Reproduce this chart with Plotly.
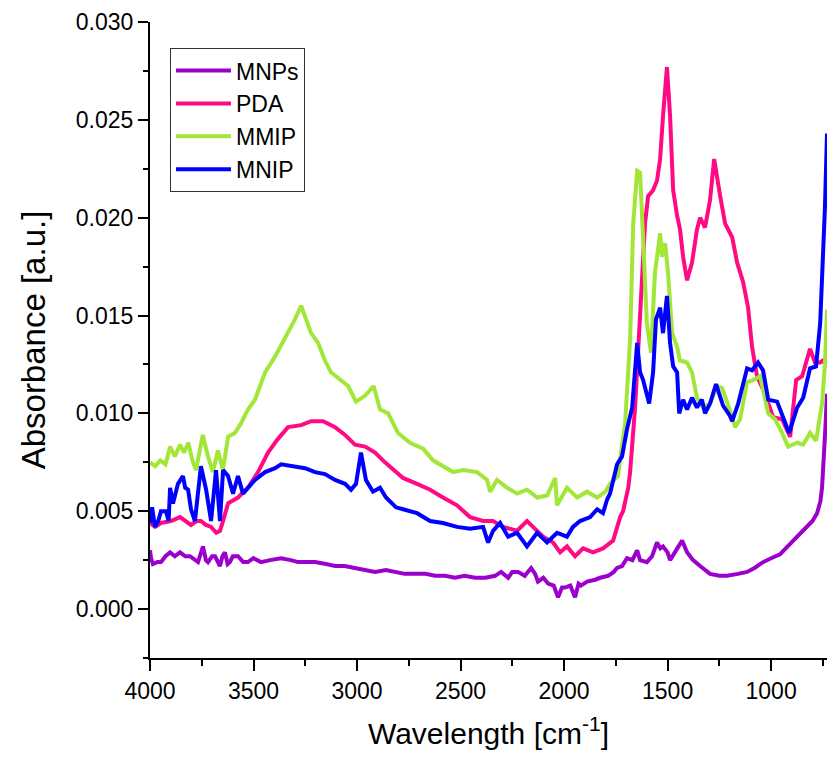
import plotly.graph_objects as go

# FTIR spectra: wavenumber (cm^-1) and absorbance (a.u.) for each sample

mnps_wn = [4000, 3995, 3986, 3965, 3947, 3925, 3903, 3880, 3855, 3830, 3807, 3768, 3744, 3730,
           3720, 3700, 3686, 3662, 3650, 3638, 3625, 3614, 3600, 3575, 3550, 3527, 3500, 3464,
           3420, 3367, 3320, 3285, 3240, 3203, 3150, 3106, 3060, 3010, 2960, 2913, 2860, 2817,
           2770, 2720, 2670, 2623, 2575, 2527, 2480, 2430, 2380, 2333, 2304, 2270, 2250, 2222,
           2190, 2159, 2140, 2126, 2100, 2077, 2050, 2029, 2010, 1995, 1970, 1947, 1930, 1918,
           1889, 1850, 1826, 1787, 1760, 1744, 1720, 1696, 1670, 1647, 1633, 1600, 1575, 1551,
           1535, 1522, 1500, 1488, 1464, 1430, 1406, 1377, 1343, 1320, 1295, 1250, 1213, 1160,
           1116, 1080, 1039, 1000, 957, 920, 893, 860, 826, 800, 778, 762, 754, 745, 738, 730]
mnps_abs = [0.0030, 0.0026, 0.0023, 0.0024, 0.0024, 0.0027, 0.0029, 0.0027, 0.0029, 0.0027,
            0.0027, 0.0024, 0.0032, 0.0025, 0.0024, 0.0027, 0.0027, 0.0022, 0.0027, 0.0029,
            0.0023, 0.0024, 0.0027, 0.0027, 0.0024, 0.0024, 0.0026, 0.0024, 0.0025, 0.0026,
            0.0025, 0.0024, 0.0024, 0.0024, 0.0023, 0.0022, 0.0022, 0.0021, 0.0020, 0.0019,
            0.0020, 0.0019, 0.0018, 0.0018, 0.0018, 0.0017, 0.0017, 0.0016, 0.0017, 0.0016,
            0.0016, 0.0017, 0.0019, 0.0016, 0.0019, 0.0019, 0.0017, 0.0021, 0.0018, 0.0014,
            0.0016, 0.0013, 0.0012, 0.0006, 0.0011, 0.0011, 0.0012, 0.0006, 0.0013, 0.0012,
            0.0014, 0.0015, 0.0016, 0.0017, 0.0019, 0.0021, 0.0022, 0.0026, 0.0025, 0.0030,
            0.0025, 0.0024, 0.0027, 0.0034, 0.0031, 0.0032, 0.0029, 0.0025, 0.0029, 0.0035,
            0.0029, 0.0025, 0.0022, 0.0020, 0.0018, 0.0017, 0.0017, 0.0018, 0.0019, 0.0021,
            0.0024, 0.0026, 0.0028, 0.0032, 0.0035, 0.0038, 0.0042, 0.0045, 0.0049, 0.0055,
            0.0062, 0.0075, 0.0092, 0.0110]

pda_wn = [4000, 3975, 3947, 3899, 3855, 3830, 3802, 3775, 3754, 3730, 3705, 3680, 3662, 3647,
          3623, 3575, 3527, 3478, 3430, 3382, 3333, 3270, 3222, 3164, 3106, 3058, 3010, 2961,
          2913, 2865, 2812, 2778, 2710, 2647, 2585, 2517, 2454, 2391, 2343, 2295, 2227, 2179,
          2150, 2101, 2053, 2019, 1986, 1947, 1908, 1860, 1812, 1763, 1729, 1715, 1690, 1681,
          1657, 1633, 1609, 1594, 1570, 1551, 1536, 1522, 1503, 1488, 1473, 1454, 1440, 1425,
          1406, 1382, 1358, 1343, 1319, 1295, 1275, 1246, 1222, 1188, 1164, 1135, 1111, 1092,
          1068, 1029, 990, 947, 908, 879, 850, 812, 788, 763, 749, 735]
pda_abs = [0.0044, 0.0042, 0.0044, 0.0045, 0.0047, 0.0045, 0.0043, 0.0045, 0.0045, 0.0043,
           0.0042, 0.0039, 0.0040, 0.0045, 0.0054, 0.0057, 0.0062, 0.0070, 0.0080, 0.0087,
           0.0093, 0.0094, 0.0096, 0.0096, 0.0093, 0.0089, 0.0084, 0.0083, 0.0080, 0.0075,
           0.0070, 0.0067, 0.0064, 0.0061, 0.0057, 0.0053, 0.0047, 0.0045, 0.0045, 0.0042,
           0.0040, 0.0045, 0.0042, 0.0037, 0.0034, 0.0029, 0.0032, 0.0027, 0.0031, 0.0029,
           0.0031, 0.0035, 0.0047, 0.0050, 0.0062, 0.0070, 0.0103, 0.0154, 0.0197, 0.0211,
           0.0214, 0.0219, 0.0230, 0.0252, 0.0277, 0.0252, 0.0214, 0.0201, 0.0194, 0.0180,
           0.0168, 0.0177, 0.0194, 0.0200, 0.0195, 0.0209, 0.0230, 0.0211, 0.0197, 0.0190,
           0.0177, 0.0167, 0.0154, 0.0134, 0.0119, 0.0110, 0.0098, 0.0097, 0.0088, 0.0117,
           0.0119, 0.0133, 0.0126, 0.0126, 0.0127, 0.0125]

mmip_wn = [4000, 3975, 3950, 3925, 3903, 3880, 3855, 3835, 3815, 3795, 3778, 3745, 3720, 3696,
           3672, 3648, 3623, 3590, 3560, 3527, 3493, 3444, 3396, 3348, 3300, 3270, 3246, 3222,
           3188, 3155, 3126, 3077, 3043, 3005, 2961, 2920, 2889, 2850, 2802, 2744, 2681, 2633,
           2585, 2536, 2488, 2420, 2372, 2357, 2324, 2275, 2227, 2179, 2130, 2082, 2043, 2034,
           1986, 1937, 1889, 1840, 1800, 1778, 1740, 1705, 1681, 1666, 1647, 1633, 1618, 1600,
           1580, 1561, 1536, 1527, 1512, 1498, 1478, 1454, 1440, 1406, 1382, 1358, 1329, 1295,
           1261, 1237, 1200, 1174, 1150, 1116, 1087, 1053, 1014, 981, 947, 918, 874, 845, 812,
           783, 754, 740, 730]
mmip_abs = [0.0075, 0.0073, 0.0076, 0.0074, 0.0083, 0.0078, 0.0084, 0.0080, 0.0085, 0.0076,
            0.0071, 0.0089, 0.0078, 0.0070, 0.0081, 0.0071, 0.0088, 0.0090, 0.0095, 0.0102,
            0.0107, 0.0121, 0.0129, 0.0138, 0.0148, 0.0155, 0.0148, 0.0141, 0.0136, 0.0127,
            0.0121, 0.0117, 0.0114, 0.0106, 0.0109, 0.0114, 0.0102, 0.0100, 0.0090, 0.0085,
            0.0082, 0.0076, 0.0073, 0.0070, 0.0071, 0.0070, 0.0066, 0.0060, 0.0066, 0.0062,
            0.0059, 0.0061, 0.0057, 0.0058, 0.0067, 0.0053, 0.0062, 0.0057, 0.0060, 0.0057,
            0.0060, 0.0064, 0.0068, 0.0095, 0.0138, 0.0197, 0.0224, 0.0223, 0.0189, 0.0146,
            0.0131, 0.0172, 0.0192, 0.0180, 0.0187, 0.0172, 0.0141, 0.0134, 0.0127, 0.0126,
            0.0121, 0.0108, 0.0103, 0.0105, 0.0114, 0.0113, 0.0102, 0.0093, 0.0097, 0.0116,
            0.0117, 0.0119, 0.0100, 0.0097, 0.0090, 0.0083, 0.0085, 0.0084, 0.0090, 0.0086,
            0.0105, 0.0125, 0.0153]

mnip_wn = [4000, 3990, 3976, 3960, 3947, 3923, 3910, 3903, 3889, 3865, 3841, 3830, 3816, 3802,
           3783, 3754, 3729, 3705, 3681, 3662, 3647, 3623, 3599, 3575, 3551, 3527, 3493, 3444,
           3396, 3367, 3300, 3251, 3203, 3155, 3106, 3058, 3029, 3005, 2981, 2957, 2923, 2889,
           2860, 2812, 2778, 2710, 2647, 2585, 2517, 2454, 2391, 2367, 2343, 2309, 2270, 2227,
           2179, 2130, 2082, 2034, 1986, 1957, 1923, 1874, 1840, 1812, 1792, 1778, 1744, 1720,
           1696, 1671, 1647, 1633, 1618, 1589, 1570, 1556, 1536, 1522, 1503, 1488, 1473, 1454,
           1444, 1425, 1406, 1382, 1358, 1334, 1319, 1295, 1266, 1232, 1200, 1188, 1159, 1116,
           1092, 1063, 1039, 1014, 971, 942, 913, 874, 845, 812, 783, 763, 749, 740, 730]
mnip_abs = [0.0044, 0.0052, 0.0042, 0.0045, 0.0050, 0.0050, 0.0045, 0.0062, 0.0054, 0.0064,
            0.0068, 0.0062, 0.0061, 0.0051, 0.0045, 0.0073, 0.0061, 0.0045, 0.0071, 0.0045,
            0.0071, 0.0068, 0.0059, 0.0068, 0.0059, 0.0062, 0.0066, 0.0070, 0.0072, 0.0074,
            0.0073, 0.0072, 0.0070, 0.0069, 0.0066, 0.0064, 0.0061, 0.0064, 0.0080, 0.0066,
            0.0060, 0.0062, 0.0057, 0.0052, 0.0051, 0.0049, 0.0045, 0.0044, 0.0042, 0.0041,
            0.0042, 0.0034, 0.0040, 0.0044, 0.0037, 0.0039, 0.0032, 0.0039, 0.0034, 0.0039,
            0.0037, 0.0042, 0.0045, 0.0047, 0.0051, 0.0049, 0.0056, 0.0059, 0.0074, 0.0078,
            0.0092, 0.0103, 0.0136, 0.0121, 0.0117, 0.0105, 0.0121, 0.0148, 0.0154, 0.0141,
            0.0160, 0.0136, 0.0124, 0.0121, 0.0100, 0.0107, 0.0102, 0.0108, 0.0103, 0.0107,
            0.0100, 0.0105, 0.0115, 0.0104, 0.0099, 0.0096, 0.0105, 0.0123, 0.0122, 0.0126,
            0.0122, 0.0107, 0.0106, 0.0098, 0.0090, 0.0103, 0.0108, 0.0123, 0.0124, 0.0146,
            0.0180, 0.0205, 0.0243]

series = [
    ("MNPs", mnps_wn, mnps_abs, "#9B00CC"),
    ("PDA", pda_wn, pda_abs, "#FF0A84"),
    ("MMIP", mmip_wn, mmip_abs, "#A2E637"),
    ("MNIP", mnip_wn, mnip_abs, "#0000FF"),
]

FONT = "Liberation Sans, Arial, sans-serif"

fig = go.Figure()
for name, wn, ab, color in series:
    fig.add_trace(go.Scatter(
        x=wn, y=ab, mode="lines", name=name,
        line=dict(color=color, width=4),
    ))

fig.update_layout(
    width=827, height=763,
    margin=dict(l=150, r=0, t=22, b=105),
    paper_bgcolor="white", plot_bgcolor="white",
    font=dict(family=FONT, color="black"),
    showlegend=True,
    legend=dict(
        x=0.0295, y=0.959, xanchor="left", yanchor="top",
        bgcolor="white", bordercolor="#333333", borderwidth=1,
        font=dict(family=FONT, size=23, color="black"),
        itemwidth=55, tracegroupgap=0,
    ),
)

fig.update_xaxes(
    range=[4000, 730], tickmode="linear", tick0=4000, dtick=500,
    ticks="outside", ticklen=11, tickwidth=1.5, tickcolor="black",
    minor=dict(dtick=250, ticks="outside", ticklen=6, tickwidth=1.5, tickcolor="black"),
    showline=True, linecolor="black", linewidth=2, mirror=False,
    showgrid=False, zeroline=False,
    tickfont=dict(family=FONT, size=23, color="black"),
    title=dict(text="Wavelength [cm<sup>-1</sup>]", standoff=20,
               font=dict(family=FONT, size=30, color="black")),
)

fig.update_yaxes(
    range=[-0.0025, 0.030], tickmode="linear", tick0=0, dtick=0.005,
    tickformat=".3f",
    ticks="outside", ticklen=10, tickwidth=1.5, tickcolor="black",
    minor=dict(dtick=0.0025, ticks="outside", ticklen=5, tickwidth=1.5, tickcolor="black"),
    showline=True, linecolor="black", linewidth=2, mirror=False,
    showgrid=False, zeroline=False,
    tickfont=dict(family=FONT, size=23, color="black"),
    title=dict(text="Absorbance [a.u.]", standoff=20,
               font=dict(family=FONT, size=33, color="black")),
)

fig.write_html("out.html")
